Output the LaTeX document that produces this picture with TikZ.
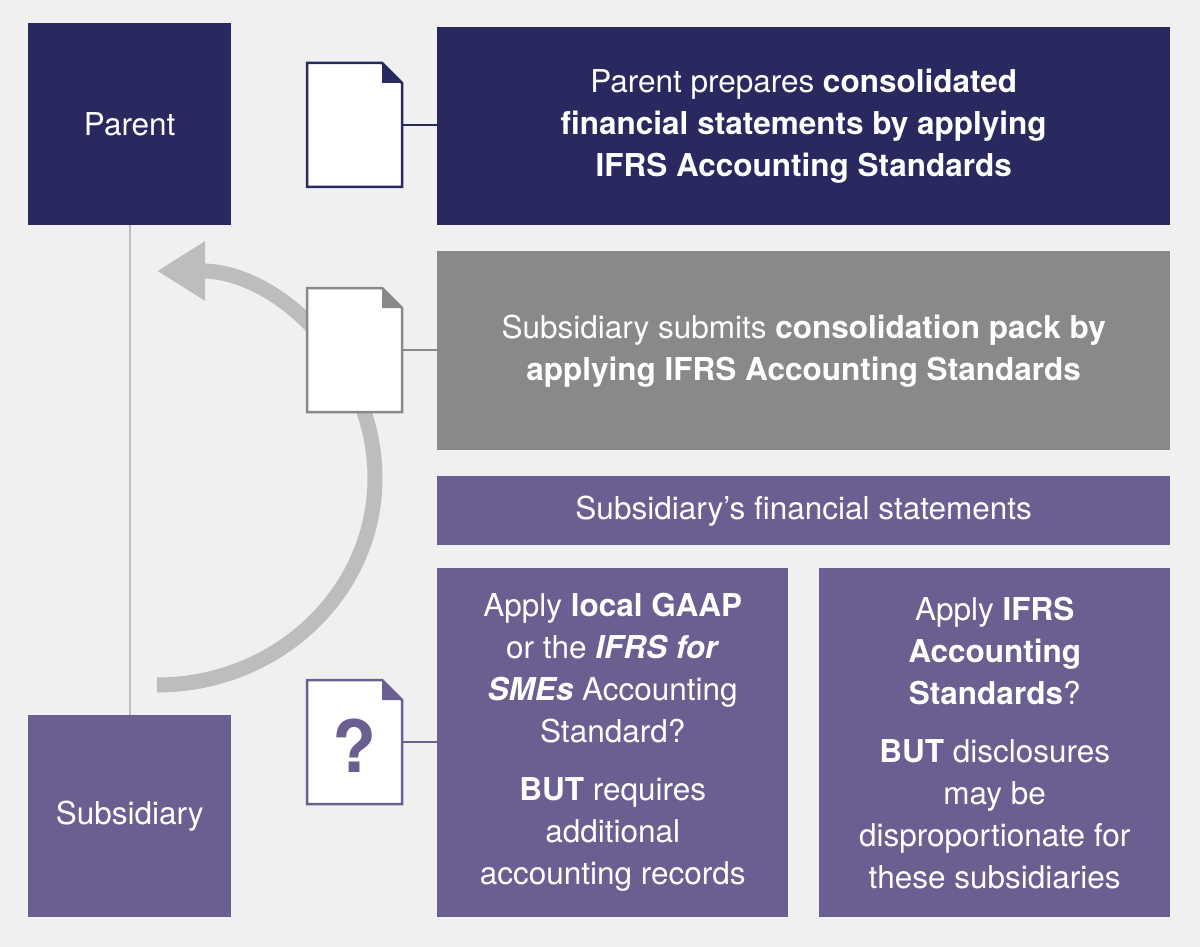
\documentclass[tikz,border=0pt]{standalone}
\usepackage{fontspec}
\setmainfont{TeX Gyre Heros}
\usetikzlibrary{arrows.meta}
\definecolor{navy}{HTML}{29295F}
\definecolor{purp}{HTML}{6B5F91}
\definecolor{gbox}{HTML}{898989}
\definecolor{arcg}{HTML}{BDBDBD}
\definecolor{bg}{HTML}{F0F0F0}
\begin{document}
\begin{tikzpicture}[x=1pt,y=-1pt,
  box/.style={anchor=north west,inner sep=0pt,text=white,align=center,font=\fontsize{31.5}{42}\selectfont},
  conn/.style={line width=2pt},
  doc/.style={line width=2.5pt,fill=white}]
\fill[bg] (0,0) rectangle (1200,947);
\useasboundingbox (0,0) rectangle (1200,947);
% vertical line
\coordinate (pb) at (130,225);
\coordinate (st) at (130,715);
\draw[arcg,line width=2pt] (pb) -- (st);
% arc
\draw[arcg,line width=15pt,-{Triangle[length=48pt,width=56pt]}] (157,685) arc[start angle=90,end angle=-90,x radius=218,y radius=207];
% boxes
\node[box,fill=navy,minimum width=203pt,minimum height=202pt] (parent) at (28,23) {Parent};
\node[box,fill=purp,minimum width=203pt,minimum height=202pt] (sub) at (28,715) {Subsidiary};
\node[box,fill=navy,minimum width=733pt,minimum height=198pt] (top) at (437,27) {Parent prepares \textbf{consolidated}\\ \textbf{financial statements by applying}\\ \textbf{IFRS Accounting Standards}};
\node[box,fill=gbox,minimum width=733pt,minimum height=199pt] (mid) at (437,251) {Subsidiary submits \textbf{consolidation pack by}\\ \textbf{applying IFRS Accounting Standards}};
\node[box,fill=purp,minimum width=733pt,minimum height=69pt] (bar) at (437,476) {Subsidiary’s financial statements};
\node[box,fill=purp,minimum width=351pt,minimum height=349pt] (bl) at (437,568) {Apply \textbf{local GAAP}\\ or the \textbf{\textit{IFRS for}}\\ \textbf{\textit{SMEs}} Accounting\\ Standard?\\[16pt] \textbf{BUT} requires\\ additional\\ accounting records};
\node[box,fill=purp,minimum width=351pt,minimum height=349pt] (br) at (819,568) {Apply \textbf{IFRS}\\ \textbf{Accounting}\\ \textbf{Standards}?\\[16pt] \textbf{BUT} disclosures\\ may be\\ disproportionate for\\ these subsidiaries};
% doc icons
\foreach \y/\c/\n in {63/navy/d1, 288/gbox/d2, 680/purp/d3}{
  \draw[doc,draw=\c] (307,\y) -- (382,\y) -- (402,\y+20) -- (402,\y+124) -- (307,\y+124) -- cycle;
  \fill[\c] (382,\y) -- (402,\y+20) -- (382,\y+20) -- cycle;
  \coordinate (\n) at (402,\y+62);
}
\node[text=purp,font=\fontsize{72}{72}\selectfont\bfseries] at (354,746) {?};
\draw[conn,navy] (d1) -- (d1 -| top.west);
\draw[conn,gbox] (d2) -- (d2 -| mid.west);
\draw[conn,purp] (d3) -- (d3 -| bl.west);
\end{tikzpicture}
\end{document}
